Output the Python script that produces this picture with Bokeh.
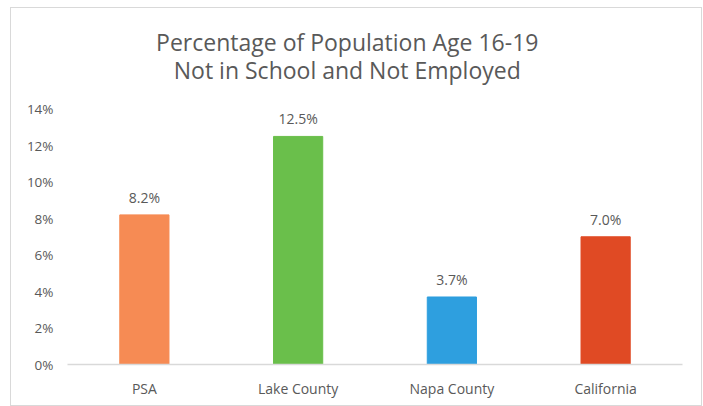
from bokeh.plotting import figure
from bokeh.models import ColumnDataSource, FixedTicker, PrintfTickFormatter, Label, Range1d, LabelSet
from bokeh.embed import file_html
from bokeh.resources import INLINE
from bokeh.core.properties import value

categories = ["PSA", "Lake County", "Napa County", "California"]
values = [8.2, 12.5, 3.7, 7.0]
colors = ["#F68B54", "#6ABF4B", "#2E9FDF", "#E04A24"]
labels = ["8.2%", "12.5%", "3.7%", "7.0%"]
y_ticks = [0, 2, 4, 6, 8, 10, 12, 14]
title_lines = ["Percentage of Population Age 16-19", "Not in School and Not Employed"]

FONT = "Open Sans"
GRAY = "#595959"

# layout: plot frame spans 354 px; 0..14 occupies the lower 254 px
FRAME_H = 354.0
AXIS_H = 254.0
FRAME_W = 613.0
y_top = y_ticks[-1] * FRAME_H / AXIS_H
px = AXIS_H / y_ticks[-1]
title_y = [y_top - 33 / px, y_top - 61 / px]
# title centred on the whole chart box rather than on the plot frame
title_x = len(categories) * (1 - 18.5 / FRAME_W) / 2 - len(categories) * 18.5 / FRAME_W / 2 * 0 - 0.12

src = ColumnDataSource(dict(cat=categories, val=values, color=colors, lab=labels))

p = figure(x_range=categories, y_range=Range1d(0, y_top), width=692, height=399,
           output_backend="svg", toolbar_location=None,
           min_border_left=56, min_border_right=21, min_border_top=0, min_border_bottom=43)
p.title = None

for txt, ty in zip(title_lines, title_y):
    p.add_layout(Label(x=title_x, y=ty, text=txt,
                       text_align="center", text_baseline="middle", text_font=FONT,
                       text_font_size="23px", text_color=GRAY))

p.vbar(x="cat", top="val", width=0.32, color="color", source=src)

lbl = LabelSet(x="cat", y="val", text="lab", source=src, text_align="center",
               text_baseline="bottom", y_offset=8, text_font=value(FONT),
               text_font_size="14px", text_color=GRAY)
p.add_layout(lbl)

p.xgrid.visible = False
p.ygrid.visible = False
p.outline_line_color = None

p.yaxis.ticker = FixedTicker(ticks=y_ticks)
p.yaxis.formatter = PrintfTickFormatter(format="%d%%")
p.yaxis.axis_line_color = None
p.yaxis.major_tick_line_color = None
p.yaxis.minor_tick_line_color = None
p.yaxis.major_tick_out = 0
p.yaxis.minor_tick_out = 0
p.yaxis.major_label_standoff = 14
p.yaxis.major_label_text_font = FONT
p.yaxis.major_label_text_font_size = "13.5px"
p.yaxis.major_label_text_color = GRAY

p.xaxis.axis_line_color = "#D9D9D9"
p.xaxis.axis_line_width = 1.5
p.xaxis.major_tick_line_color = None
p.xaxis.minor_tick_line_color = None
p.xaxis.major_tick_out = 0
p.xaxis.minor_tick_out = 0
p.xaxis.major_label_standoff = 14
p.xaxis.major_label_text_font = FONT
p.xaxis.major_label_text_font_size = "14px"
p.xaxis.major_label_text_color = GRAY

p.styles = {"border": "1px solid #D9D9D9", "box-sizing": "border-box",
            "margin-left": "10px", "margin-top": "7px"}

open("out.html", "w").write(file_html(p, INLINE))
